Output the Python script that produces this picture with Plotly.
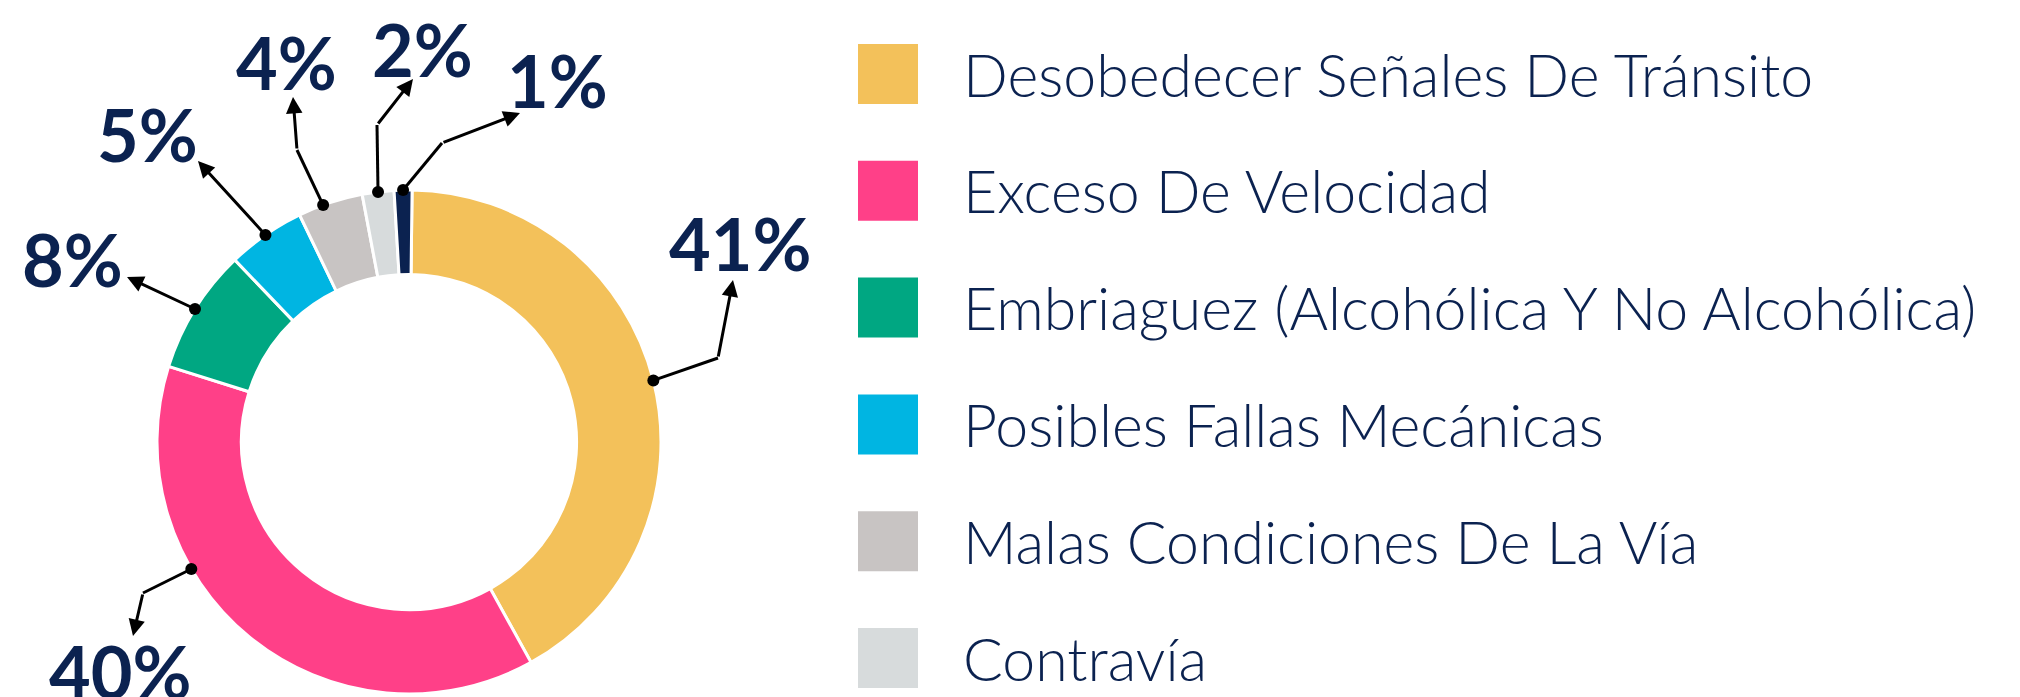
import math
import plotly.graph_objects as go

# ---------------- data ----------------
categories = [
    "Desobedecer Señales De Tránsito",
    "Exceso De Velocidad",
    "Embriaguez (Alcohólica Y No Alcohólica)",
    "Posibles Fallas Mecánicas",
    "Malas Condiciones De La Vía",
    "Contravía",
    "Otras Causas",
]
values = [41.75, 37.9, 8.0, 5.0, 4.17, 2.03, 1.14]
pct_labels = ["41%", "40%", "8%", "5%", "4%", "2%", "1%"]
colors = ["#F3C15A", "#FF4088", "#00A782", "#00B5E2", "#C8C4C3", "#D7DBDC", "#0B2250"]

# ---------------- layout constants (screen pixels) ----------------
SCREEN_W, SCREEN_H = 2020, 697
OFF = 8                      # page body margin
W, H = SCREEN_W - OFF, SCREEN_H - OFF
CX, CY, R = 409, 442, 252
HOLE = 0.665
ROT = 0.7
NAVY = "#0B2250"

# leader-line geometry per label: (angle shift of anchor dot, elbow, arrow tip, label centre)
dot_shift = [0, 20.5, 0, 0, -1.7, 0, 0]
elbows = [(718, 358), (143, 593), None, None, (297, 150), (377, 125), (442, 143)]
tips = [(733, 280), (133, 636), (127, 277), (198, 161), (293, 97), (413, 79), (520, 113)]
label_pos = [(740, 243), (120, 671), (72, 259), (147, 134), (286, 62), (422, 49), (557, 80)]

fig = go.Figure()

fig.add_trace(go.Pie(
    labels=categories,
    values=values,
    sort=False,
    direction="clockwise",
    rotation=ROT,
    hole=HOLE,
    marker=dict(colors=colors, line=dict(color="white", width=3)),
    textinfo="none",
    hoverinfo="label+percent",
    showlegend=False,
    domain=dict(x=[(CX - OFF - R) / W, (CX - OFF + R) / W],
                y=[1 - (CY - OFF + R) / H, 1 - (CY - OFF - R) / H]),
))

# invisible pixel-based axes for leader lines and legend
fig.add_trace(go.Scatter(x=[OFF, SCREEN_W], y=[OFF, SCREEN_H], mode="markers",
                         marker=dict(opacity=0), hoverinfo="skip", showlegend=False))

shapes = []
annotations = []
total = sum(values)
cum = 0.0
for i, v in enumerate(values):
    mid = ROT + (cum + v / 2) / total * 360 + dot_shift[i]
    cum += v
    a = math.radians(mid)
    dx = CX + R * math.sin(a)
    dy = CY - R * math.cos(a)
    el = elbows[i] if elbows[i] is not None else (dx, dy)
    if elbows[i] is not None:
        shapes.append(dict(type="line", xref="x", yref="y", x0=dx, y0=dy, x1=el[0], y1=el[1],
                           line=dict(color="black", width=3), layer="above"))
    shapes.append(dict(type="circle", xref="x", yref="y", x0=dx - 6, x1=dx + 6, y0=dy - 6, y1=dy + 6,
                       fillcolor="black", line=dict(width=0), layer="above"))
    tx, ty = tips[i]
    annotations.append(dict(x=tx, y=ty, xref="x", yref="y", ax=el[0], ay=el[1], axref="x", ayref="y",
                            text="", showarrow=True, arrowhead=2, arrowsize=1.1, arrowwidth=3,
                            arrowcolor="black", standoff=0, startstandoff=0))
    lx, ly = label_pos[i]
    annotations.append(dict(x=lx, y=ly, xref="x", yref="y", text=pct_labels[i], showarrow=False,
                            xanchor="center", yanchor="middle",
                            font=dict(family="Lato, 'Open Sans', sans-serif", size=72, color=NAVY, weight=700)))

# custom legend
LEG_X0, LEG_SQ, LEG_TX = 858, 60, 961
LEG_Y0, LEG_DY = 74, 116.8
for i, name in enumerate(categories):
    yc = LEG_Y0 + i * LEG_DY
    shapes.append(dict(type="rect", xref="x", yref="y", x0=LEG_X0, x1=LEG_X0 + LEG_SQ,
                       y0=yc - LEG_SQ / 2, y1=yc + LEG_SQ / 2, fillcolor=colors[i], line=dict(width=0),
                       layer="above"))
    annotations.append(dict(x=LEG_TX, y=yc, xref="x", yref="y", text=name, showarrow=False,
                            xanchor="left", yanchor="middle",
                            font=dict(family="Lato, 'Open Sans', sans-serif", size=59, color=NAVY, weight=300)))

fig.update_layout(
    width=W, height=H,
    margin=dict(l=0, r=0, t=0, b=0),
    paper_bgcolor="white", plot_bgcolor="white",
    showlegend=False,
    xaxis=dict(range=[OFF, SCREEN_W], domain=[0, 1], visible=False, fixedrange=True),
    yaxis=dict(range=[SCREEN_H, OFF], domain=[0, 1], visible=False, fixedrange=True),
    shapes=shapes,
    annotations=annotations,
)

fig.write_html("out.html")
